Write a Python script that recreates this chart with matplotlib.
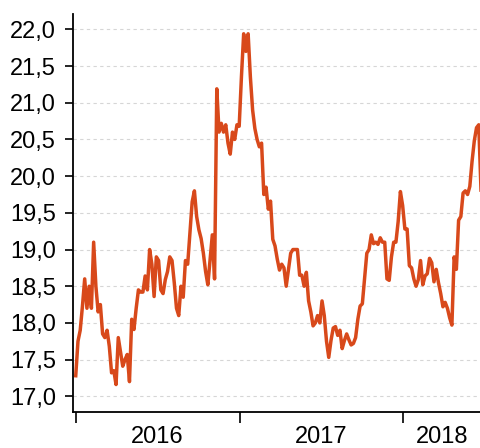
import pandas as pd
import matplotlib
matplotlib.use("Agg")
import matplotlib.pyplot as plt
import matplotlib.dates as mdates
from matplotlib.ticker import FuncFormatter, FixedLocator

plt.rcParams['font.family'] = ['Liberation Sans', 'DejaVu Sans']

# exchange rate, one value every 5 days from 2016-01-01
start = "2016-01-01"
step_days = 5
rate = [
    17.28, 17.75, 17.90, 18.23, 18.60, 18.20, 18.50, 18.20, 19.10, 18.50,
    18.15, 18.25, 17.85, 17.80, 17.90, 17.68, 17.32, 17.35, 17.16, 17.80,
    17.60, 17.41, 17.50, 17.57, 17.20, 18.05, 17.91, 18.20, 18.45, 18.42,
    18.42, 18.64, 18.45, 19.00, 18.80, 18.36, 18.90, 18.85, 18.45, 18.40,
    18.59, 18.70, 18.90, 18.85, 18.55, 18.20, 18.10, 18.50, 18.35, 18.85,
    18.80, 19.23, 19.65, 19.80, 19.45, 19.27, 19.15, 18.95, 18.70, 18.52,
    18.86, 19.20, 18.60, 21.19, 20.60, 20.72, 20.60, 20.70, 20.45, 20.30,
    20.60, 20.50, 20.70, 20.68, 21.35, 21.94, 21.70, 21.94, 21.35, 20.90,
    20.65, 20.50, 20.40, 20.45, 19.75, 19.85, 19.55, 19.66, 19.14, 19.05,
    18.87, 18.72, 18.80, 18.75, 18.50, 18.72, 18.95, 19.00, 19.00, 19.00,
    18.65, 18.65, 18.50, 18.69, 18.30, 18.15, 17.96, 18.00, 18.10, 18.00,
    18.30, 18.10, 17.75, 17.53, 17.76, 17.93, 17.95, 17.83, 17.90, 17.65,
    17.76, 17.85, 17.77, 17.70, 17.72, 17.80, 18.05, 18.23, 18.26, 18.60,
    18.95, 19.00, 19.20, 19.08, 19.10, 19.07, 19.16, 19.10, 19.10, 18.60,
    18.58, 18.90, 19.10, 19.10, 19.38, 19.79, 19.60, 19.28, 19.28, 18.78,
    18.75, 18.60, 18.50, 18.59, 18.85, 18.52, 18.64, 18.67, 18.88, 18.82,
    18.56, 18.73, 18.55, 18.40, 18.22, 18.28, 18.20, 18.07, 17.97, 18.90,
    18.73, 19.40, 19.45, 19.77, 19.80, 19.75, 19.86, 20.20, 20.48, 20.66,
    20.70, 19.81,
]
dates = pd.date_range(start, periods=len(rate), freq=f"{step_days}D")
series = pd.Series(rate, index=dates)

years = [2016, 2017, 2018]
y_ticks = [17.0 + 0.5 * k for k in range(11)]

fig = plt.figure(figsize=(4.81, 4.48), dpi=100)
ax = fig.add_axes([0.1528, 0.081, 0.8472, 0.8878])

ax.plot(series.index, series.values, color='#d8491b', linewidth=2.5,
        solid_joinstyle='round')

x_left = pd.Timestamp("2015-12-27")
x_right = series.index[-1]
ax.set_xlim(x_left, x_right)
ax.set_ylim(16.79, 22.21)

# year boundaries as ticks, year names centred on the visible part of each year
year_starts = [pd.Timestamp(f"{y}-01-01") for y in years]
ax.xaxis.set_major_locator(FixedLocator(mdates.date2num(year_starts)))
ax.xaxis.set_major_formatter(FuncFormatter(lambda v, p: ""))
mids = []
for y in years:
    a = max(pd.Timestamp(f"{y}-01-01"), x_left)
    b = min(pd.Timestamp(f"{y + 1}-01-01"), x_right)
    mids.append(a + (b - a) / 2)
ax.xaxis.set_minor_locator(FixedLocator(mdates.date2num(mids)))
ax.xaxis.set_minor_formatter(FuncFormatter(lambda v, p: str(years[p])))
ax.tick_params(axis='x', which='major', length=8, width=1.2, color='black')
ax.tick_params(axis='x', which='minor', length=0, pad=10.5, labelsize=17)

ax.set_yticks(y_ticks)
ax.yaxis.set_major_formatter(FuncFormatter(lambda v, p: f"{v:.1f}".replace(".", ",")))
ax.tick_params(axis='y', length=5.5, width=1.2, pad=7, labelsize=17)

ax.grid(axis='y', color='#d6d6d6', linestyle=(0, (3, 3)), linewidth=0.8)
ax.set_axisbelow(True)

for side in ['top', 'right']:
    ax.spines[side].set_visible(False)
for side in ['left', 'bottom']:
    ax.spines[side].set_linewidth(1.3)

plt.savefig('out.png', dpi=100)
